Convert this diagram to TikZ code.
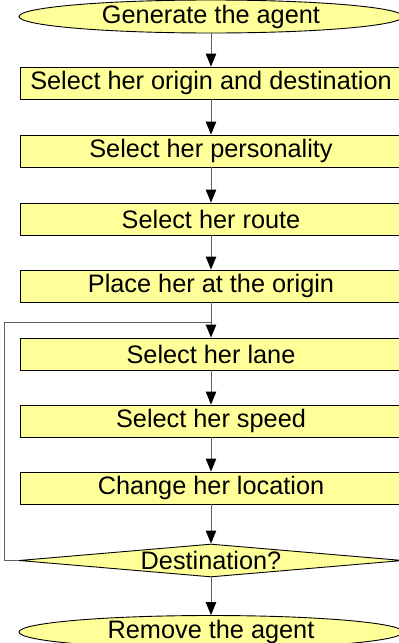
\documentclass[tikz,border=0pt]{standalone}
\usepackage{fontspec}
\setmainfont{Liberation Sans}
\usetikzlibrary{shapes.geometric,arrows.meta}
\definecolor{boxfill}{HTML}{FFFF99}
\definecolor{linegray}{HTML}{606060}
\begin{document}
\begin{tikzpicture}[x=1pt,y=-1pt,
  txt/.style={font=\fontsize{25.3}{28}\selectfont},
  stepbox/.style={draw=black,fill=boxfill,line width=0.9pt,minimum width=382pt,minimum height=32pt,inner sep=0pt,txt},
  term/.style={ellipse,draw=black,fill=boxfill,line width=0.9pt,minimum width=384pt,minimum height=33pt,inner sep=0pt},
  decide/.style={diamond,draw=black,fill=boxfill,line width=0.9pt,minimum width=384pt,minimum height=33pt,inner sep=0pt},
  flow/.style={draw=linegray,line width=1pt,-{Triangle[width=10.5pt,length=13pt,color=black]}},
  loopline/.style={draw=linegray,line width=1pt}]
\useasboundingbox (0,0) rectangle (399,643);
\clip (0,0) rectangle (399,643);
\node[term,label={[txt]center:Generate the agent}] (gen) at (211,16.5) {};
\node[stepbox] (od) at (211,83) {Select her origin and destination};
\node[stepbox] (pers) at (211,151) {Select her personality};
\node[stepbox] (route) at (211,219) {Select her route};
\node[stepbox] (place) at (211,286) {Place her at the origin};
\node[stepbox] (lane) at (211,354) {Select her lane};
\node[stepbox] (speed) at (211,421) {Select her speed};
\node[stepbox] (loc) at (211,488) {Change her location};
\node[decide,label={[txt]center:Destination?}] (dest) at (211,560.5) {};
\node[term,label={[txt]center:Remove the agent}] (rem) at (211,632) {};
\coordinate (j) at (211,322);
\coordinate (lc) at (4,560.5);
\draw[flow] (gen) -- (od);
\draw[flow] (od) -- (pers);
\draw[flow] (pers) -- (route);
\draw[flow] (route) -- (place);
\draw[flow] (place) -- (lane);
\draw[flow] (lane) -- (speed);
\draw[flow] (speed) -- (loc);
\draw[flow] (loc) -- (dest);
\draw[flow] (dest) -- (rem);
\draw[loopline] (dest.west) -- (lc) |- (j);
\end{tikzpicture}
\end{document}
